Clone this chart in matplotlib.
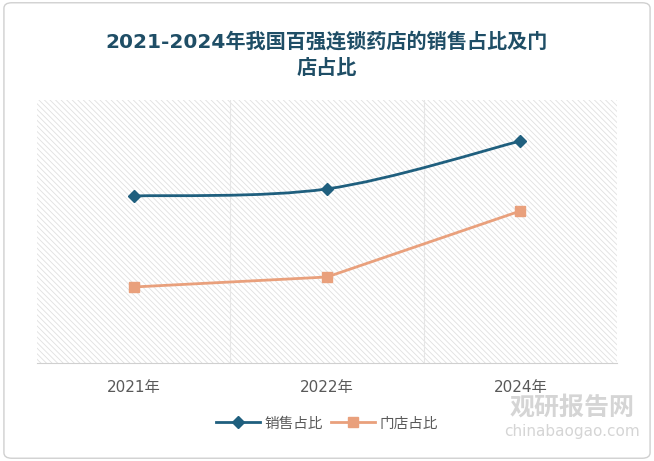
import matplotlib
matplotlib.use("Agg")
import matplotlib.pyplot as plt
from matplotlib.path import Path
from matplotlib.patches import PathPatch, Rectangle, FancyBboxPatch
import numpy as np

FONTS = ['DejaVu Sans', 'Noto Sans CJK JP', 'Noto Sans CJK SC']
plt.rcParams['font.family'] = FONTS
plt.rcParams['hatch.color'] = "#e0e0e0"
plt.rcParams['hatch.linewidth'] = 0.6

categories = ["2021年", "2022年", "2024年"]
sales_share = [63.5, 66.2, 84.4]
store_share = [28.9, 32.7, 57.8]

blue = "#1f5f7e"
orange = "#e9a07c"

fig = plt.figure(figsize=(6.54, 4.61), dpi=100)
fig.patches.append(FancyBboxPatch((0.006, 0.006), 0.988, 0.988, boxstyle="round,pad=0,rounding_size=0.012",
                                  transform=fig.transFigure, fill=False, ec="#d0d0d0", lw=1))
ax = fig.add_axes([37/654, 98/461, 580/654, 263/461])
ax.set_xlim(-0.5, 2.5)
ax.set_ylim(0, 100)
ax.add_patch(Rectangle((-0.5, 0), 3, 100, facecolor="white", edgecolor="#e0e0e0", hatch="\\\\\\\\\\\\", lw=0, zorder=0))
for xv in [0.5, 1.5]:
    ax.axvline(xv, color="#e6e6e6", lw=0.8, zorder=1)
for s in ["top", "left", "right"]:
    ax.spines[s].set_visible(False)
ax.spines["bottom"].set_color("#d0d0d0")
ax.set_yticks([])
x = np.arange(len(categories))
ax.set_xticks(x)
ax.set_xticklabels(categories, fontsize=11, color="#595959")
ax.tick_params(axis="x", length=0, pad=12)

pts = np.column_stack([x, sales_share]).astype(float)
ext = np.vstack([pts[0], pts, pts[-1]])
verts = [tuple(pts[0])]
codes = [Path.MOVETO]
for i in range(1, len(ext) - 2):
    p0, p1, p2, p3 = ext[i - 1], ext[i], ext[i + 1], ext[i + 2]
    c1 = p1 + (p2 - p0) / 6
    c2 = p2 - (p3 - p1) / 6
    verts += [tuple(c1), tuple(c2), tuple(p2)]
    codes += [Path.CURVE4] * 3
ax.add_patch(PathPatch(Path(verts, codes), fill=False, ec=blue, lw=2, zorder=3))
ax.plot(x, sales_share, ls="none", marker="D", ms=6, color=blue, zorder=4)
ax.plot([], [], color=blue, lw=2, marker="D", ms=6, label="销售占比")
ax.plot(x, store_share, color=orange, lw=2, marker="s", ms=7, label="门店占比", zorder=3)

ax.legend(loc="upper center", bbox_to_anchor=(0.5, -0.15), ncol=2, frameon=False,
          fontsize=10.5, handlelength=3, columnspacing=0.6, handletextpad=0.3, labelcolor="#595959")

fig.text(0.5, 0.91, "2021-2024年我国百强连锁药店的销售占比及门", ha="center", va="center",
         fontsize=14.5, fontweight="bold", color="#1f4e66")
fig.text(0.5, 0.852, "店占比", ha="center", va="center", fontsize=14.5, fontweight="bold", color="#1f4e66")
fig.text(0.875, 0.115, "观研报告网", ha="center", va="center", fontsize=18, fontweight="bold", color="#d5d5d5")
fig.text(0.875, 0.065, "chinabaogao.com", ha="center", va="center", fontsize=11, color="#d5d5d5")
fig.savefig("out.png", dpi=100)
